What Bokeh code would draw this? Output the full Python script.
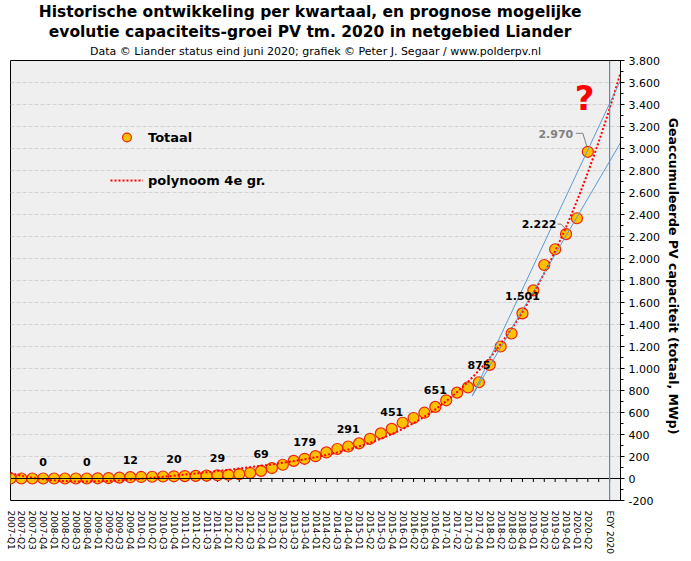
import numpy as np
from bokeh.plotting import figure
from bokeh.models import (Range1d, FixedTicker, Span, Label, Legend, LegendItem, Title)
from bokeh.core.properties import value
from bokeh.embed import file_html
from bokeh.resources import INLINE

# ---------------- data ----------------
years = list(range(2007, 2021))
quarters = [f"{y}-Q{q}" for y in years for q in (1, 2, 3, 4)][:54]
x_labels = quarters + ["", "EOY 2020"]

totaal = [0, 0, 0, 0,            # 2007
          0, 0, 0, 0,            # 2008
          2, 4, 8, 12,           # 2009
          14, 16, 18, 20,        # 2010
          22, 24, 26, 29,        # 2011
          34, 40, 50, 69,        # 2012
          95, 125, 160, 179,     # 2013
          203, 237, 268, 291,    # 2014
          319, 361, 410, 451,    # 2015
          507, 550, 598, 651,    # 2016
          711, 781, 828, 875,    # 2017
          1033, 1200, 1318, 1501,  # 2018
          1710, 1941, 2084, 2222,  # 2019
          2366, 2970]            # 2020
idx = list(range(len(totaal)))

# labelled points (Q4 values)
label_idx = [3, 7, 11, 15, 19, 23, 27, 31, 35, 39, 43, 47]
label_2222_idx = 51
label_2970_idx = 53

# hand drawn trend channel
channel_x = [42.4, 56.0]
channel_upper_y = [752, 3619]
channel_lower_y = [752, 3052]

eoy_idx = 55
question_x, question_y = 52.7, 3462

y_ticks = list(range(-200, 3801, 200))
y_minor = list(range(-200, 3801, 100))

title1 = "Historische  ontwikkeling  per kwartaal, en prognose mogelijke"
title2 = "evolutie  capaciteits-groei  PV tm. 2020 in netgebied Liander"
subtitle = "Data \u00a9 Liander status eind juni 2020; grafiek \u00a9 Peter J. Segaar / www.polderpv.nl"
y_title = "Geaccumuleerde  PV  capaciteit (totaal, MWp)"

FONT = "DejaVu Sans"
X0, X1 = 0, 56
Y0, Y1 = -200, 3800
FW, FH = 610, 440
ppx = FW / (X1 - X0)
ppy = FH / (Y1 - Y0)

def nl(v):
    return f"{v:,}".replace(",", ".")

# ---------------- figure ----------------
p = figure(frame_width=FW, frame_height=FH,
           x_range=Range1d(X0, X1), y_range=Range1d(Y0, Y1),
           output_backend="svg", toolbar_location=None, title=None,
           y_axis_location="right",
           min_border_left=10, min_border_right=50, min_border_top=50,
           min_border_bottom=40,
           background_fill_color="#EFEFEF", border_fill_color="white",
           outline_line_color="black", outline_line_width=1)

# titles (added innermost first)
p.add_layout(Title(text=subtitle, align="center", text_font=FONT,
                   text_font_size="11px", text_font_style="normal", text_color="black",
                   standoff=5, offset=0), "above")
p.add_layout(Title(text=title2, align="center", text_font=FONT,
                   text_font_size="15.5px", text_font_style="bold", text_color="black",
                   standoff=0, offset=0), "above")
p.add_layout(Title(text=title1, align="center", text_font=FONT,
                   text_font_size="15.5px", text_font_style="bold", text_color="black",
                   standoff=0, offset=0), "above")

# x axis (labels only)
xa = p.xaxis[0]
xa.ticker = FixedTicker(ticks=list(range(len(x_labels))))
xa.major_label_overrides = {i: lab for i, lab in enumerate(x_labels)}
xa.axis_line_color = None
xa.major_tick_line_color = None
xa.minor_tick_line_color = None
xa.major_label_orientation = "vertical"
xa.major_label_standoff = 4
xa.major_label_text_font = FONT
xa.major_label_text_font_size = "9px"
xa.major_label_text_color = "black"

# y axis right
ya = p.yaxis[0]
yt = FixedTicker(ticks=y_ticks, minor_ticks=y_minor)
ya.ticker = yt
ya.major_label_overrides = {t: nl(t) for t in y_ticks}
ya.major_tick_in = 0
ya.major_tick_out = 4
ya.minor_tick_in = 0
ya.minor_tick_out = 3
ya.axis_line_color = "black"
ya.major_tick_line_color = "black"
ya.minor_tick_line_color = "black"
ya.major_label_standoff = 4
ya.major_label_text_font = FONT
ya.major_label_text_font_size = "11px"
ya.major_label_text_color = "black"
ya.axis_label = y_title
ya.axis_label_text_font = FONT
ya.axis_label_text_font_size = "12.5px"
ya.axis_label_text_font_style = "bold"
ya.axis_label_standoff = 3
ya.axis_label_text_color = "black"

p.xgrid.visible = False
p.ygrid.ticker = yt
p.ygrid.grid_line_color = "#D2D2D2"
p.ygrid.grid_line_dash = "4 2"
p.ygrid.grid_line_width = 1

# zero line and its ticks
p.add_layout(Span(location=0, dimension="width", line_color="black", line_width=1))
tick_x = list(range(1, len(x_labels)))
p.segment(x0=tick_x, y0=[0] * len(tick_x), x1=tick_x, y1=[-3.5 / ppy] * len(tick_x),
          line_color="black", line_width=1)

# EOY vertical line
p.add_layout(Span(location=eoy_idx, dimension="height", line_color="#5A8AC6", line_width=1.2))

# data
dots = p.scatter(idx, totaal, size=11, fill_color="#FFC000", line_color="#E8260C", line_width=1.2)

# polynomial 4th degree trend
coef = np.polyfit(idx, totaal, 4)
px = np.linspace(X0, X1, 225)
py = np.polyval(coef, px)
poly = p.line(px, py, line_color="#FF0000", line_width=2, line_dash="2 2")

# trend channel
p.line(channel_x, channel_upper_y, line_color="#5B9BD5", line_width=1)
p.line(channel_x, channel_lower_y, line_color="#5B9BD5", line_width=1)

# data labels
LF = value(FONT)
p.text(x=label_idx, y=[totaal[i] for i in label_idx], text=[nl(totaal[i]) for i in label_idx],
       text_font=LF, text_font_size="11px", text_font_style="bold", text_color="black",
       text_align="center", text_baseline="middle", y_offset=-17)
p.text(x=[label_2222_idx], y=[totaal[label_2222_idx]], text=[nl(totaal[label_2222_idx])],
       text_font=LF, text_font_size="11px", text_font_style="bold", text_color="black",
       text_align="center", text_baseline="middle", x_offset=-27, y_offset=-10)
p.text(x=[label_2970_idx], y=[totaal[label_2970_idx]], text=[nl(totaal[label_2970_idx])],
       text_font=LF, text_font_size="11px", text_font_style="bold", text_color="#808080",
       text_align="center", text_baseline="middle", x_offset=-32, y_offset=-18)

# leader lines (offsets in px relative to dot)
def leader(i, pts):
    xs = [i + dx / ppx for dx, dy in pts]
    ys = [totaal[i] - dy / ppy for dx, dy in pts]
    p.line(xs, ys, line_color="#808080", line_width=1)

leader(label_2222_idx, [(-8.5, -10), (-5, -10), (-0.8, -5.5)])
leader(label_2970_idx, [(-12, -18.5), (-5, -18.5), (-1, -5.5)])

# red question mark
p.add_layout(Label(x=question_x, y=question_y, text="?", text_font=FONT,
                   text_font_size="34px", text_font_style="bold", text_color="#FF0000",
                   text_align="center", text_baseline="middle"))

# legend
legend = Legend(items=[LegendItem(label="Totaal", renderers=[dots]),
                       LegendItem(label="polynoom 4e gr.", renderers=[poly])],
                location=(100, 309), orientation="vertical",
                glyph_width=33, glyph_height=22, label_height=22, spacing=21,
                label_standoff=5, padding=0, margin=0,
                background_fill_alpha=0, border_line_color=None,
                label_text_font=FONT, label_text_font_size="13px",
                label_text_font_style="bold", label_text_color="black")
p.add_layout(legend)

open("out.html", "w").write(file_html(p, INLINE))
